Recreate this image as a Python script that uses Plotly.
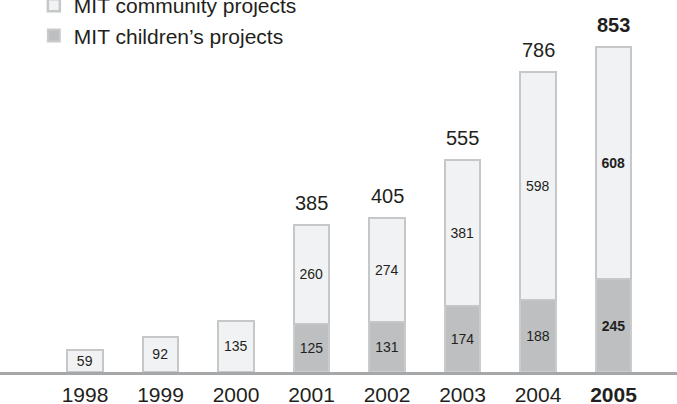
import plotly.graph_objects as go

years = ["1998", "1999", "2000", "2001", "2002", "2003", "2004", "2005"]
children = [None, None, None, 125, 131, 174, 188, 245]
community = [59, 92, 135, 260, 274, 381, 598, 608]
totals = [None, None, None, 385, 405, 555, 786, 853]

x = list(range(len(years)))
last = len(years) - 1

def fmt(v, i):
    if v is None:
        return ""
    return f"<b>{v}</b>" if i == last else str(v)

txt_color = "#231f20"
FONT = "Liberation Sans, Arial, sans-serif"
fig = go.Figure()
fig.add_trace(go.Bar(
    x=x, y=children, name="MIT children\u2019s projects",
    marker=dict(color="#bdbfc1", line=dict(color="#c9cbcd", width=2)),
    text=[fmt(v, i) for i, v in enumerate(children)], textposition="inside",
    insidetextanchor="middle", textangle=0,
    textfont=dict(size=14, color=txt_color, family=FONT),
    width=0.47, legendgroup="b", legendrank=2,
))
fig.add_trace(go.Bar(
    x=x, y=community, name="MIT community projects",
    marker=dict(color="#f1f2f4", line=dict(color="#c5c7c9", width=2.5)),
    text=[fmt(v, i) for i, v in enumerate(community)], textposition="inside",
    insidetextanchor="middle", textangle=0,
    textfont=dict(size=14, color=txt_color, family=FONT),
    width=0.47, legendgroup="a", legendrank=1,
))

for i, t in enumerate(totals):
    if t is None:
        continue
    fig.add_annotation(x=i, y=t, text=fmt(t, i), showarrow=False,
                       yanchor="bottom", yshift=9,
                       font=dict(size=20, color=txt_color, family=FONT))

fig.update_layout(
    width=677, height=404,
    margin=dict(l=0, r=0, t=0, b=32, autoexpand=False),
    paper_bgcolor="white", plot_bgcolor="white",
    barmode="stack", bargap=0,
    font=dict(family=FONT, color=txt_color),
    showlegend=True,
    legend=dict(x=0.05, y=1.04, xanchor="left", yanchor="top",
                font=dict(size=21, color=txt_color, family=FONT),
                traceorder="grouped", tracegroupgap=0,
                bgcolor="rgba(0,0,0,0)"),
    xaxis=dict(range=[-1.126, 7.841], tickvals=x,
               ticktext=[fmt(y, i) for i, y in enumerate(years)],
               tickfont=dict(size=21, color=txt_color, family=FONT),
               ticklabelstandoff=2,
               showgrid=False, zeroline=False, showline=True,
               linecolor="#a5a7a9", linewidth=3, ticks=""),
    yaxis=dict(range=[0, 976], visible=False, showgrid=False, zeroline=False),
)

fig.write_html("out.html", config={"displayModeBar": False},
               post_script="document.body.style.margin='0';")
